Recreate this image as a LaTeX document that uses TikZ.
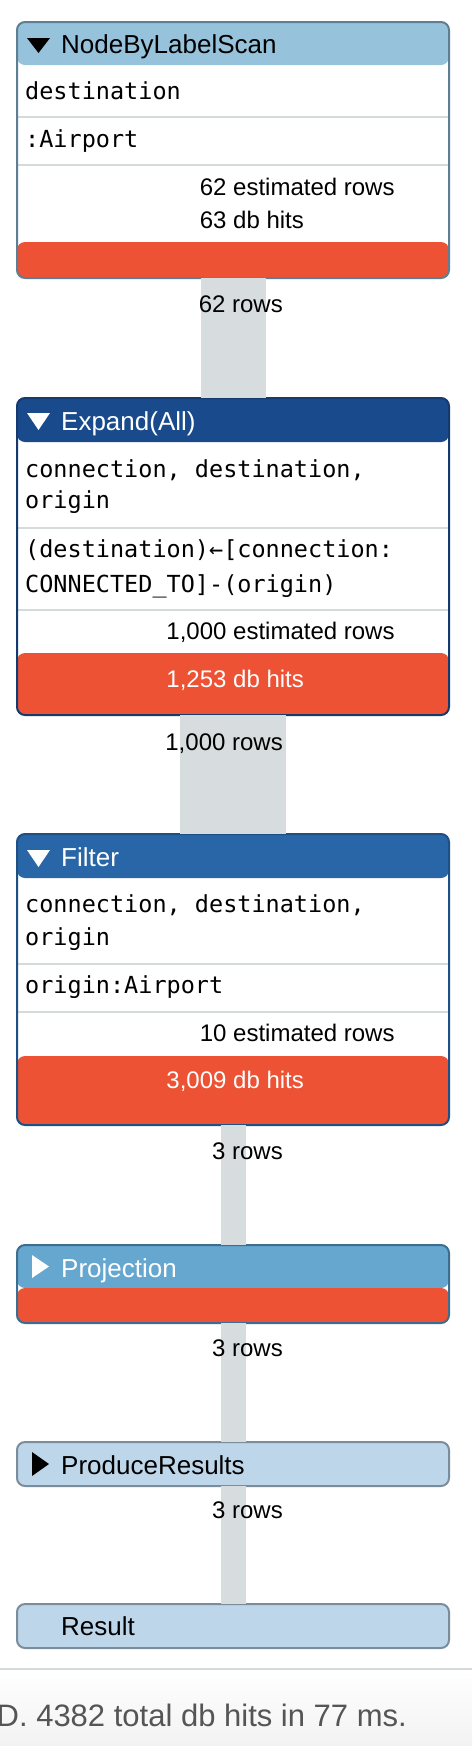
\documentclass[tikz,border=0pt]{standalone}
\usepackage{fontspec}
\setmainfont{Liberation Sans}
\setmonofont{DejaVu Sans Mono}
\usepackage{xcolor}
\usetikzlibrary{positioning}

\definecolor{planred}{HTML}{EC5233}
\definecolor{rowgray}{HTML}{D7DCDF}
\definecolor{sepgray}{HTML}{D5DADD}
\definecolor{scanhead}{HTML}{96C2DB}
\definecolor{scanline}{HTML}{5E7F93}
\definecolor{expandhead}{HTML}{184A8C}
\definecolor{expandline}{HTML}{163A6E}
\definecolor{filterhead}{HTML}{2866A8}
\definecolor{filterline}{HTML}{1E4F85}
\definecolor{projhead}{HTML}{66A7D0}
\definecolor{projline}{HTML}{3D6D8F}
\definecolor{leafhead}{HTML}{BED6EA}
\definecolor{leafline}{HTML}{7B8C9B}
\definecolor{footgray}{HTML}{555555}

\tikzset{
  opbox/.style={rectangle, rounded corners=8pt, line width=2pt, minimum width=432pt,
    inner sep=0pt, outer sep=0pt, fill=white},
  rowbar/.style={draw=rowgray},
  titletext/.style={anchor=base west, inner sep=0pt, font=\fontsize{26}{30}\selectfont},
  monotext/.style={anchor=base west, inner sep=0pt, font=\fontsize{23.5}{28}\ttfamily},
  stattext/.style={anchor=base west, inner sep=0pt, font=\fontsize{24}{28}\selectfont},
  rowtext/.style={anchor=base east, inner sep=0pt, font=\fontsize{24}{28}\selectfont},
  sepline/.style={draw=sepgray, line width=2pt}
}

\begin{document}
\begin{tikzpicture}[line cap=butt,line join=round,x=1pt,y=-1pt]
\useasboundingbox (0,0) rectangle (472,1746);
\fill[white] (0,0) rectangle (472,1746);

% operator boxes
\node[opbox, draw=scanline, minimum height=256pt, path picture={
  \fill[scanhead] (path picture bounding box.north west) rectangle ++(432,43);
  \fill[planred] (path picture bounding box.south west) rectangle ++(432,-36);
  \draw[sepline] (path picture bounding box.north west) ++(0,95) -- ++(432,0);
  \draw[sepline] (path picture bounding box.north west) ++(0,143) -- ++(432,0);}] (scan) at (233,150) {};
\node[opbox, draw=expandline, minimum height=317pt, path picture={
  \fill[expandhead] (path picture bounding box.north west) rectangle ++(432,44);
  \fill[planred] (path picture bounding box.south west) rectangle ++(432,-62);
  \draw[sepline] (path picture bounding box.north west) ++(0,130) -- ++(432,0);
  \draw[sepline] (path picture bounding box.north west) ++(0,212) -- ++(432,0);}] (expand) at (233,556.5) {};
\node[opbox, draw=filterline, minimum height=291pt, path picture={
  \fill[filterhead] (path picture bounding box.north west) rectangle ++(432,44);
  \fill[planred] (path picture bounding box.south west) rectangle ++(432,-69);
  \draw[sepline] (path picture bounding box.north west) ++(0,130) -- ++(432,0);
  \draw[sepline] (path picture bounding box.north west) ++(0,178) -- ++(432,0);}] (filter) at (233,979.5) {};
\node[opbox, draw=projline, minimum height=78pt, path picture={
  \fill[projhead] (path picture bounding box.north west) rectangle ++(432,43);
  \fill[planred] (path picture bounding box.south west) rectangle ++(432,-35);}] (projection) at (233,1284) {};
\node[opbox, draw=leafline, fill=leafhead, minimum height=44pt] (produce) at (233,1464) {};
\node[opbox, draw=leafline, fill=leafhead, minimum height=44pt] (result) at (233,1626) {};

% rows flowing between operators
\draw[rowbar, line width=65pt] (scan.south) -- (expand.north);
\draw[rowbar, line width=106pt] (expand.south) -- (filter.north);
\draw[rowbar, line width=25pt] (filter.south) -- (projection.north);
\draw[rowbar, line width=25pt] (projection.south) -- (produce.north);
\draw[rowbar, line width=25pt] (produce.south) -- (result.north);

% NodeByLabelScan
\fill (27,38) -- (50,38) -- (38.5,53) -- cycle;
\node[titletext] (scantitle) at (61,53) {NodeByLabelScan};
\node[monotext] (scanvars) at (25,99) {destination};
\node[monotext] (scanlabel) at (25,147) {:Airport};
\node[stattext] (scanest) at (233,195) {\llap{62\ }estimated rows};
\node[stattext] (scanhits) at (233,228) {\llap{63\ }db hits};
\node[rowtext] (scanrows) at (283,312) {62 rows};

% Expand(All)
\fill[white] (27,413) -- (50,413) -- (38.5,430) -- cycle;
\node[titletext, text=white] (expandtitle) at (61,430) {Expand(All)};
\node[monotext] (expandvars) at (25,477) {connection, destination,};
\node[monotext] (expandvarsb) at (25,508) {origin};
\node[monotext] (expandpat) at (25,557) {(destination)←[connection:};
\node[monotext] (expandpatb) at (25,592) {CONNECTED\_TO]-(origin)};
\node[stattext] (expandest) at (233,639) {\llap{1,000\ }estimated rows};
\node[stattext, text=white] (expandhits) at (233,687) {\llap{1,253\ }db hits};
\node[rowtext] (expandrows) at (283,750) {1,000 rows};

% Filter
\fill[white] (27,850) -- (50,850) -- (38.5,867) -- cycle;
\node[titletext, text=white] (filtertitle) at (61,866) {Filter};
\node[monotext] (filtervars) at (25,912) {connection, destination,};
\node[monotext] (filtervarsb) at (25,945) {origin};
\node[monotext] (filterpred) at (25,993) {origin:Airport};
\node[stattext] (filterest) at (233,1041) {\llap{10\ }estimated rows};
\node[stattext, text=white] (filterhits) at (233,1088) {\llap{3,009\ }db hits};
\node[rowtext] (filterrows) at (283,1159) {3 rows};

% Projection
\fill[white] (32,1255) -- (49,1266.5) -- (32,1278) -- cycle;
\node[titletext, text=white] (projtitle) at (61,1277) {Projection};
\node[rowtext] (projrows) at (283,1356) {3 rows};

% ProduceResults
\fill (32,1452) -- (49,1464) -- (32,1476) -- cycle;
\node[titletext] (producetitle) at (61,1474) {ProduceResults};
\node[rowtext] (producerows) at (283,1518) {3 rows};

% Result
\node[titletext] (resulttitle) at (61,1635) {Result};

% status line
\shade[top color=white, bottom color=black!5] (0,1669) rectangle (472,1746);
\draw[sepgray, line width=1.5pt] (0,1669) -- (472,1669);
\node[anchor=base east, inner sep=0pt, text=footgray, font=\fontsize{31}{36}\selectfont]
  (summary) at (407,1726) {D. 4382 total db hits in 77 ms.};
\end{tikzpicture}
\end{document}
